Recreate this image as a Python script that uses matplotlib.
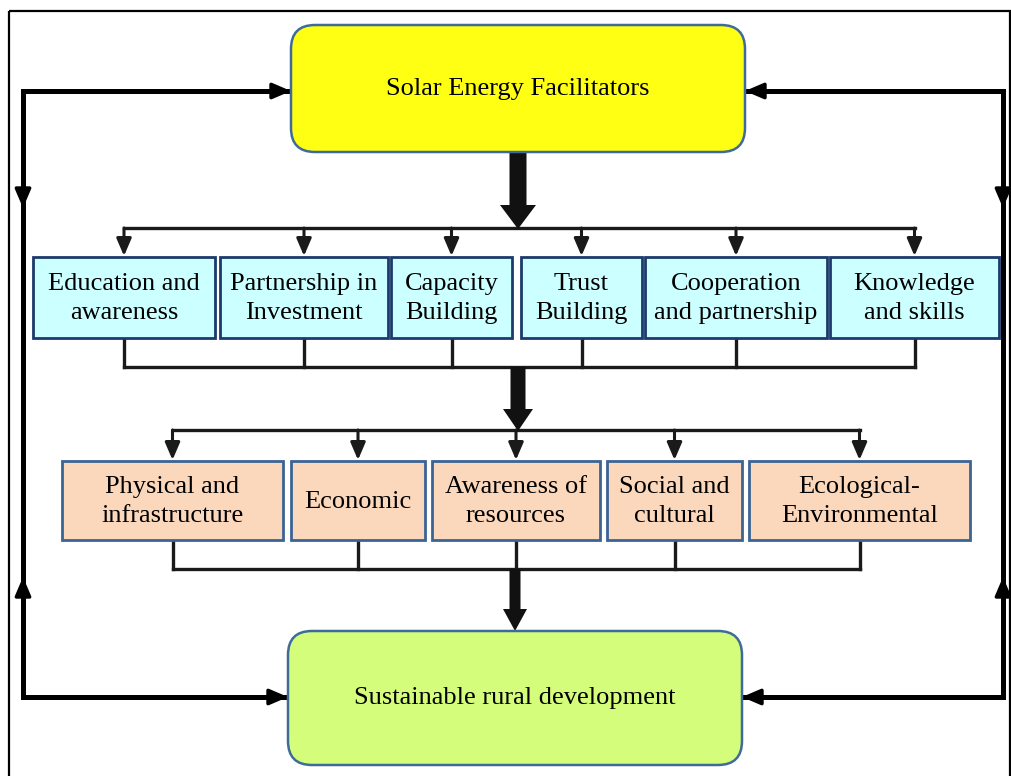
import matplotlib.pyplot as plt
from matplotlib.patches import FancyBboxPatch, Rectangle, FancyArrow

# --- chart content ------------------------------------------------------------
top_label = "Solar Energy Facilitators"
bottom_label = "Sustainable rural development"
row1_labels = ["Education and\nawareness", "Partnership in\nInvestment", "Capacity\nBuilding",
               "Trust\nBuilding", "Cooperation\nand partnership", "Knowledge\nand skills"]
row2_labels = ["Physical and\ninfrastructure", "Economic", "Awareness of\nresources",
               "Social and\ncultural", "Ecological-\nEnvironmental"]

# --- layout (pixel coordinates, y downwards) ----------------------------------
row1_x = [(33, 215), (220, 388), (391, 512), (521, 642), (645, 827), (830, 999)]
row1_y = (257, 338)
row2_x = [(62, 283), (291, 425), (432, 600), (607, 742), (749, 970)]
row2_y = (461, 540)
top_box = (291, 25, 745, 152)
bot_box = (288, 631, 742, 765)

plt.rcParams['font.family'] = ['Liberation Serif', 'DejaVu Serif']
FS = 19
LINE = '#1a1a1a'

fig = plt.figure(figsize=(10.11, 7.76), dpi=100)
ax = fig.add_axes([0, 0, 1, 1])
ax.set_xlim(0, 1011)
ax.set_ylim(776, 0)
ax.axis('off')

# outer frame
ax.add_patch(Rectangle((9, 11), 1001, 780, fill=False, lw=1.6, ec='black', zorder=1))


def rbox(x0, y0, x1, y1, fc, ec, text):
    ax.add_patch(FancyBboxPatch((x0, y0), x1 - x0, y1 - y0,
                                boxstyle="round,pad=0,rounding_size=24",
                                fc=fc, ec=ec, lw=1.8, zorder=3))
    ax.text((x0 + x1) / 2, (y0 + y1) / 2, text, ha='center', va='center',
            fontsize=FS, zorder=4)


def sbox(x0, y0, x1, y1, fc, ec, text):
    ax.add_patch(Rectangle((x0, y0), x1 - x0, y1 - y0, fc=fc, ec=ec, lw=2.0, zorder=3))
    ax.text((x0 + x1) / 2, (y0 + y1) / 2 + 1, text, ha='center', va='center',
            fontsize=FS, linespacing=1.38, zorder=4)


def head(x0, y0, x1, y1, lw, color='black', ms=16):
    ax.annotate('', xy=(x1, y1), xytext=(x0, y0),
                arrowprops=dict(arrowstyle='-|>,head_length=0.7,head_width=0.3',
                                lw=lw, color=color, shrinkA=0, shrinkB=0,
                                mutation_scale=ms), zorder=2)


def big_arrow(x, y0, y1, w, hw, hl):
    ax.add_patch(FancyArrow(x, y0, 0, y1 - y0, width=w, head_width=hw, head_length=hl,
                            length_includes_head=True, fc='#111111', ec='none', zorder=2))


# main boxes
rbox(*top_box, '#ffff14', '#3f6b99', top_label)
rbox(*bot_box, '#d5fd7c', '#3f6b99', bottom_label)

# row 1
bus1, join1 = 228, 367
c1 = [(a + b) / 2 for a, b in row1_x]
ax.plot([c1[0], c1[-1]], [bus1, bus1], color=LINE, lw=2.4, solid_capstyle='projecting', zorder=2)
ax.plot([c1[0], c1[-1]], [join1, join1], color=LINE, lw=2.4, solid_capstyle='projecting', zorder=2)
for (a, b), lab, cx in zip(row1_x, row1_labels, c1):
    sbox(a, row1_y[0], b, row1_y[1], '#ccffff', '#1c3a6b', lab)
    head(cx, bus1, cx, row1_y[0] - 1, 2.2, LINE, 15)
    ax.plot([cx, cx], [row1_y[1], join1], color=LINE, lw=2.4, zorder=2)

# row 2
bus2, join2 = 430, 569
c2 = [(a + b) / 2 for a, b in row2_x]
ax.plot([c2[0], c2[-1]], [bus2, bus2], color=LINE, lw=2.4, solid_capstyle='projecting', zorder=2)
ax.plot([c2[0], c2[-1]], [join2, join2], color=LINE, lw=2.4, solid_capstyle='projecting', zorder=2)
for (a, b), lab, cx in zip(row2_x, row2_labels, c2):
    sbox(a, row2_y[0], b, row2_y[1], '#fbd8bc', '#3a6494', lab)
    head(cx, bus2, cx, row2_y[0] - 1, 2.2, LINE, 15)
    ax.plot([cx, cx], [row2_y[1], join2], color=LINE, lw=2.4, zorder=2)

# thick down arrows
big_arrow(518, top_box[3], bus1 + 1, 17, 36, 24)
big_arrow(518, join1, bus2 + 1, 15, 30, 22)
big_arrow(515, join2, bot_box[1], 11, 24, 22)

# feedback loops
for xs, xe_top, xe_bot in [(23, top_box[0], bot_box[0]), (1003, top_box[2], bot_box[2])]:
    ax.plot([xe_top, xs, xs, xe_bot], [91, 91, 697, 697], color='black', lw=3.6,
            solid_joinstyle='miter', zorder=2)
    d = 1 if xe_top > xs else -1
    head(xe_top - d * 30, 91, xe_top, 91, 2.5)
    head(xe_bot - d * 30, 697, xe_bot, 697, 2.5)
    head(xs, 180, xs, 208, 2.5)
    head(xs, 605, xs, 577, 2.5)

fig.savefig('out.png', dpi=100)
